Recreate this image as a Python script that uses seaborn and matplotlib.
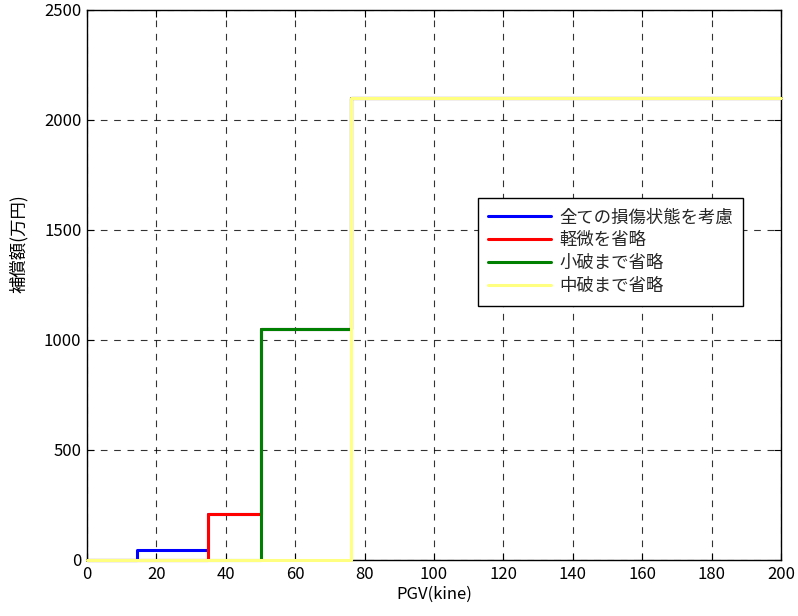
import matplotlib
matplotlib.use("Agg")
import matplotlib.pyplot as plt
import seaborn as sns
import pandas as pd

# Step breakpoints (PGV, kine) and compensation levels (万円) for each case
pgv = [0, 14.5, 35, 50, 76, 200]
all_states = [0, 45, 210, 1050, 2100, 2100]
omit_minor = [0, 0, 210, 1050, 2100, 2100]
omit_small = [0, 0, 0, 1050, 2100, 2100]
omit_medium = [0, 0, 0, 0, 2100, 2100]

labels = ["全ての損傷状態を考慮", "軽微を省略", "小破まで省略", "中破まで省略"]
colors = ["#0000FF", "#FF0000", "#008000", "#FFFF80"]

sns.set_theme(style="white")
plt.rcParams["font.family"] = ["Noto Sans CJK JP", "DejaVu Sans"]

frames = []
for lab, vals in zip(labels, [all_states, omit_minor, omit_small, omit_medium]):
    frames.append(pd.DataFrame({"PGV": pgv, "value": vals, "case": lab}))
df = pd.concat(frames, ignore_index=True)

fig = plt.figure(figsize=(7.98, 6.16), dpi=100)
ax = fig.add_axes([87 / 798, 1 - 560 / 616, 694 / 798, 550 / 616])

sns.lineplot(data=df, x="PGV", y="value", hue="case", hue_order=labels,
             palette=colors, estimator=None, sort=False,
             drawstyle="steps-post", linewidth=2.2, ax=ax)
for ln in ax.get_lines():
    ln.set_clip_on(False)
    ln.set_zorder(5)

ax.set_xlim(0, 200)
ax.set_ylim(0, 2500)
ax.set_xticks(range(0, 201, 20))
ax.set_yticks(range(0, 2501, 500))
ax.grid(True, color="black", linestyle=(0, (6, 6)), linewidth=0.8, alpha=0.8)
ax.set_axisbelow(True)
for sp in ax.spines.values():
    sp.set_color("black")
    sp.set_linewidth(1.0)
    sp.set_zorder(3)
ax.tick_params(direction="in", length=5, width=0.8, colors="black",
               top=True, right=True, bottom=True, left=True, labelsize=12,
               pad=4)
ax.set_xlabel("PGV(kine)", fontsize=12, color="black", labelpad=2)
ax.set_ylabel("補償額(万円)", fontsize=12.5, color="black")
ax.yaxis.set_label_coords(-0.085, 0.576)

leg = ax.legend(loc="upper left", bbox_to_anchor=(0.563, 0.658), fontsize=12.5,
                frameon=True, fancybox=False, edgecolor="black",
                framealpha=1, handlelength=3.6, borderpad=0.6,
                labelspacing=0.28, handletextpad=0.5, borderaxespad=0)
leg.get_frame().set_linewidth(1.0)
leg.set_zorder(10)

fig.savefig("out.png", dpi=100, facecolor="white")
